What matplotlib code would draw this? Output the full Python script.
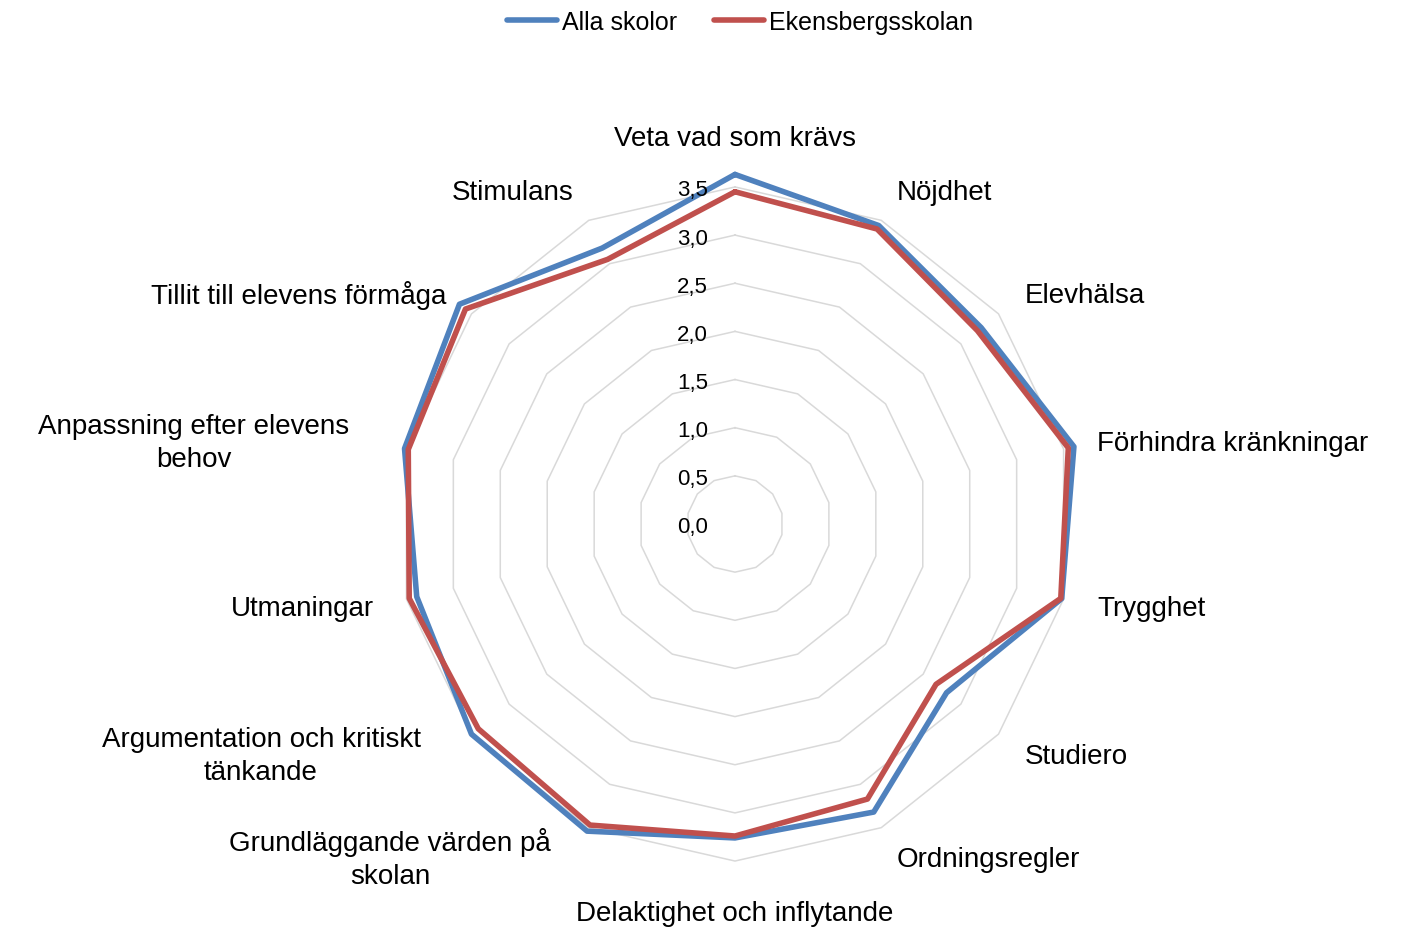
import numpy as np
import matplotlib
matplotlib.use("Agg")
import matplotlib.pyplot as plt

categories = [
    "Veta vad som krävs", "Nöjdhet", "Elevhälsa", "Förhindra kränkningar",
    "Trygghet", "Studiero", "Ordningsregler", "Delaktighet och inflytande",
    "Grundläggande värden på\nskolan", "Argumentation och kritiskt\ntänkande",
    "Utmaningar", "Anpassning efter elevens\nbehov", "Tillit till elevens förmåga",
    "Stimulans",
]
alla_skolor = [3.63, 3.44, 3.27, 3.61, 3.48, 2.81, 3.32, 3.26, 3.54, 3.50, 3.39, 3.52, 3.66, 3.18]
ekensberg = [3.45, 3.40, 3.22, 3.55, 3.47, 2.67, 3.17, 3.24, 3.47, 3.41, 3.47, 3.48, 3.58, 3.05]
series_names = ["Alla skolor", "Ekensbergsskolan"]
tick_values = [0.0, 0.5, 1.0, 1.5, 2.0, 2.5, 3.0, 3.5]
tick_labels = ["0,0", "0,5", "1,0", "1,5", "2,0", "2,5", "3,0", "3,5"]

W, H = 1413, 929
plt.rcParams['font.family'] = ['Liberation Sans', 'DejaVu Sans']
fig = plt.figure(figsize=(W / 100, H / 100), dpi=100)

cx, cy = 735, 525          # center in pixels (from top)
unit = 96.3                # pixels per unit
rmax = 3.75
R = rmax * unit
ax = fig.add_axes([(cx - R) / W, (H - cy - R) / H, 2 * R / W, 2 * R / H], projection='polar')
ax.set_theta_zero_location('N')
ax.set_theta_direction(-1)
ax.set_ylim(0, rmax)
ax.grid(False)
ax.spines['polar'].set_visible(False)
ax.set_xticks([])
ax.set_yticks([])
ax.patch.set_alpha(0)

n = len(categories)
theta = np.linspace(0, 2 * np.pi, n, endpoint=False)
theta_c = np.append(theta, theta[0])

# polygon grid
for v in tick_values[1:]:
    ax.plot(theta_c, [v] * (n + 1), color='#d9d9d9', lw=1.1, zorder=1)

colors = ['#4f81bd', '#c0504d']
handles = []
for vals, col, name in zip([alla_skolor, ekensberg], colors, series_names):
    vv = np.append(vals, vals[0])
    h, = ax.plot(theta_c, vv, color=col, lw=4.0, solid_joinstyle='round',
                 solid_capstyle='round', zorder=3, clip_on=False, label=name)
    handles.append(h)

# radial tick labels
for v, lab in zip(tick_values, tick_labels):
    ax.annotate(lab, xy=(0, v), xytext=(-27, -3), textcoords='offset pixels',
                ha='right', va='center', fontsize=16, color='#000000', zorder=4)

# category labels (pixel positions)
label_pos = [
    (735, 137, 'center'), (897, 191, 'left'), (1025, 294, 'left'),
    (1097, 442, 'left'), (1097, 607, 'left'), (1025, 755, 'left'),
    (897, 858, 'left'), (735, 912, 'center'), (390, 857, 'center'),
    (261, 755, 'center'), (374, 607, 'right'), (194, 442, 'center'),
    (446, 294, 'right'), (574, 191, 'right'),
]
for lab, (x, y, ha) in zip(categories, label_pos):
    fig.text(x / W, 1 - (y + 2) / H, lab, ha=ha, va='center', fontsize=20,
             multialignment='center', linespacing=1.35, color='#000000')

leg = fig.legend(handles=handles, loc='center', bbox_to_anchor=(740 / W, 1 - 23 / H),
                 ncol=2, frameon=False, fontsize=18, handlelength=2.0,
                 handletextpad=0.2, columnspacing=1.5)
for lh in leg.get_lines():
    lh.set_solid_capstyle('round')

fig.savefig('out.png', dpi=100)
